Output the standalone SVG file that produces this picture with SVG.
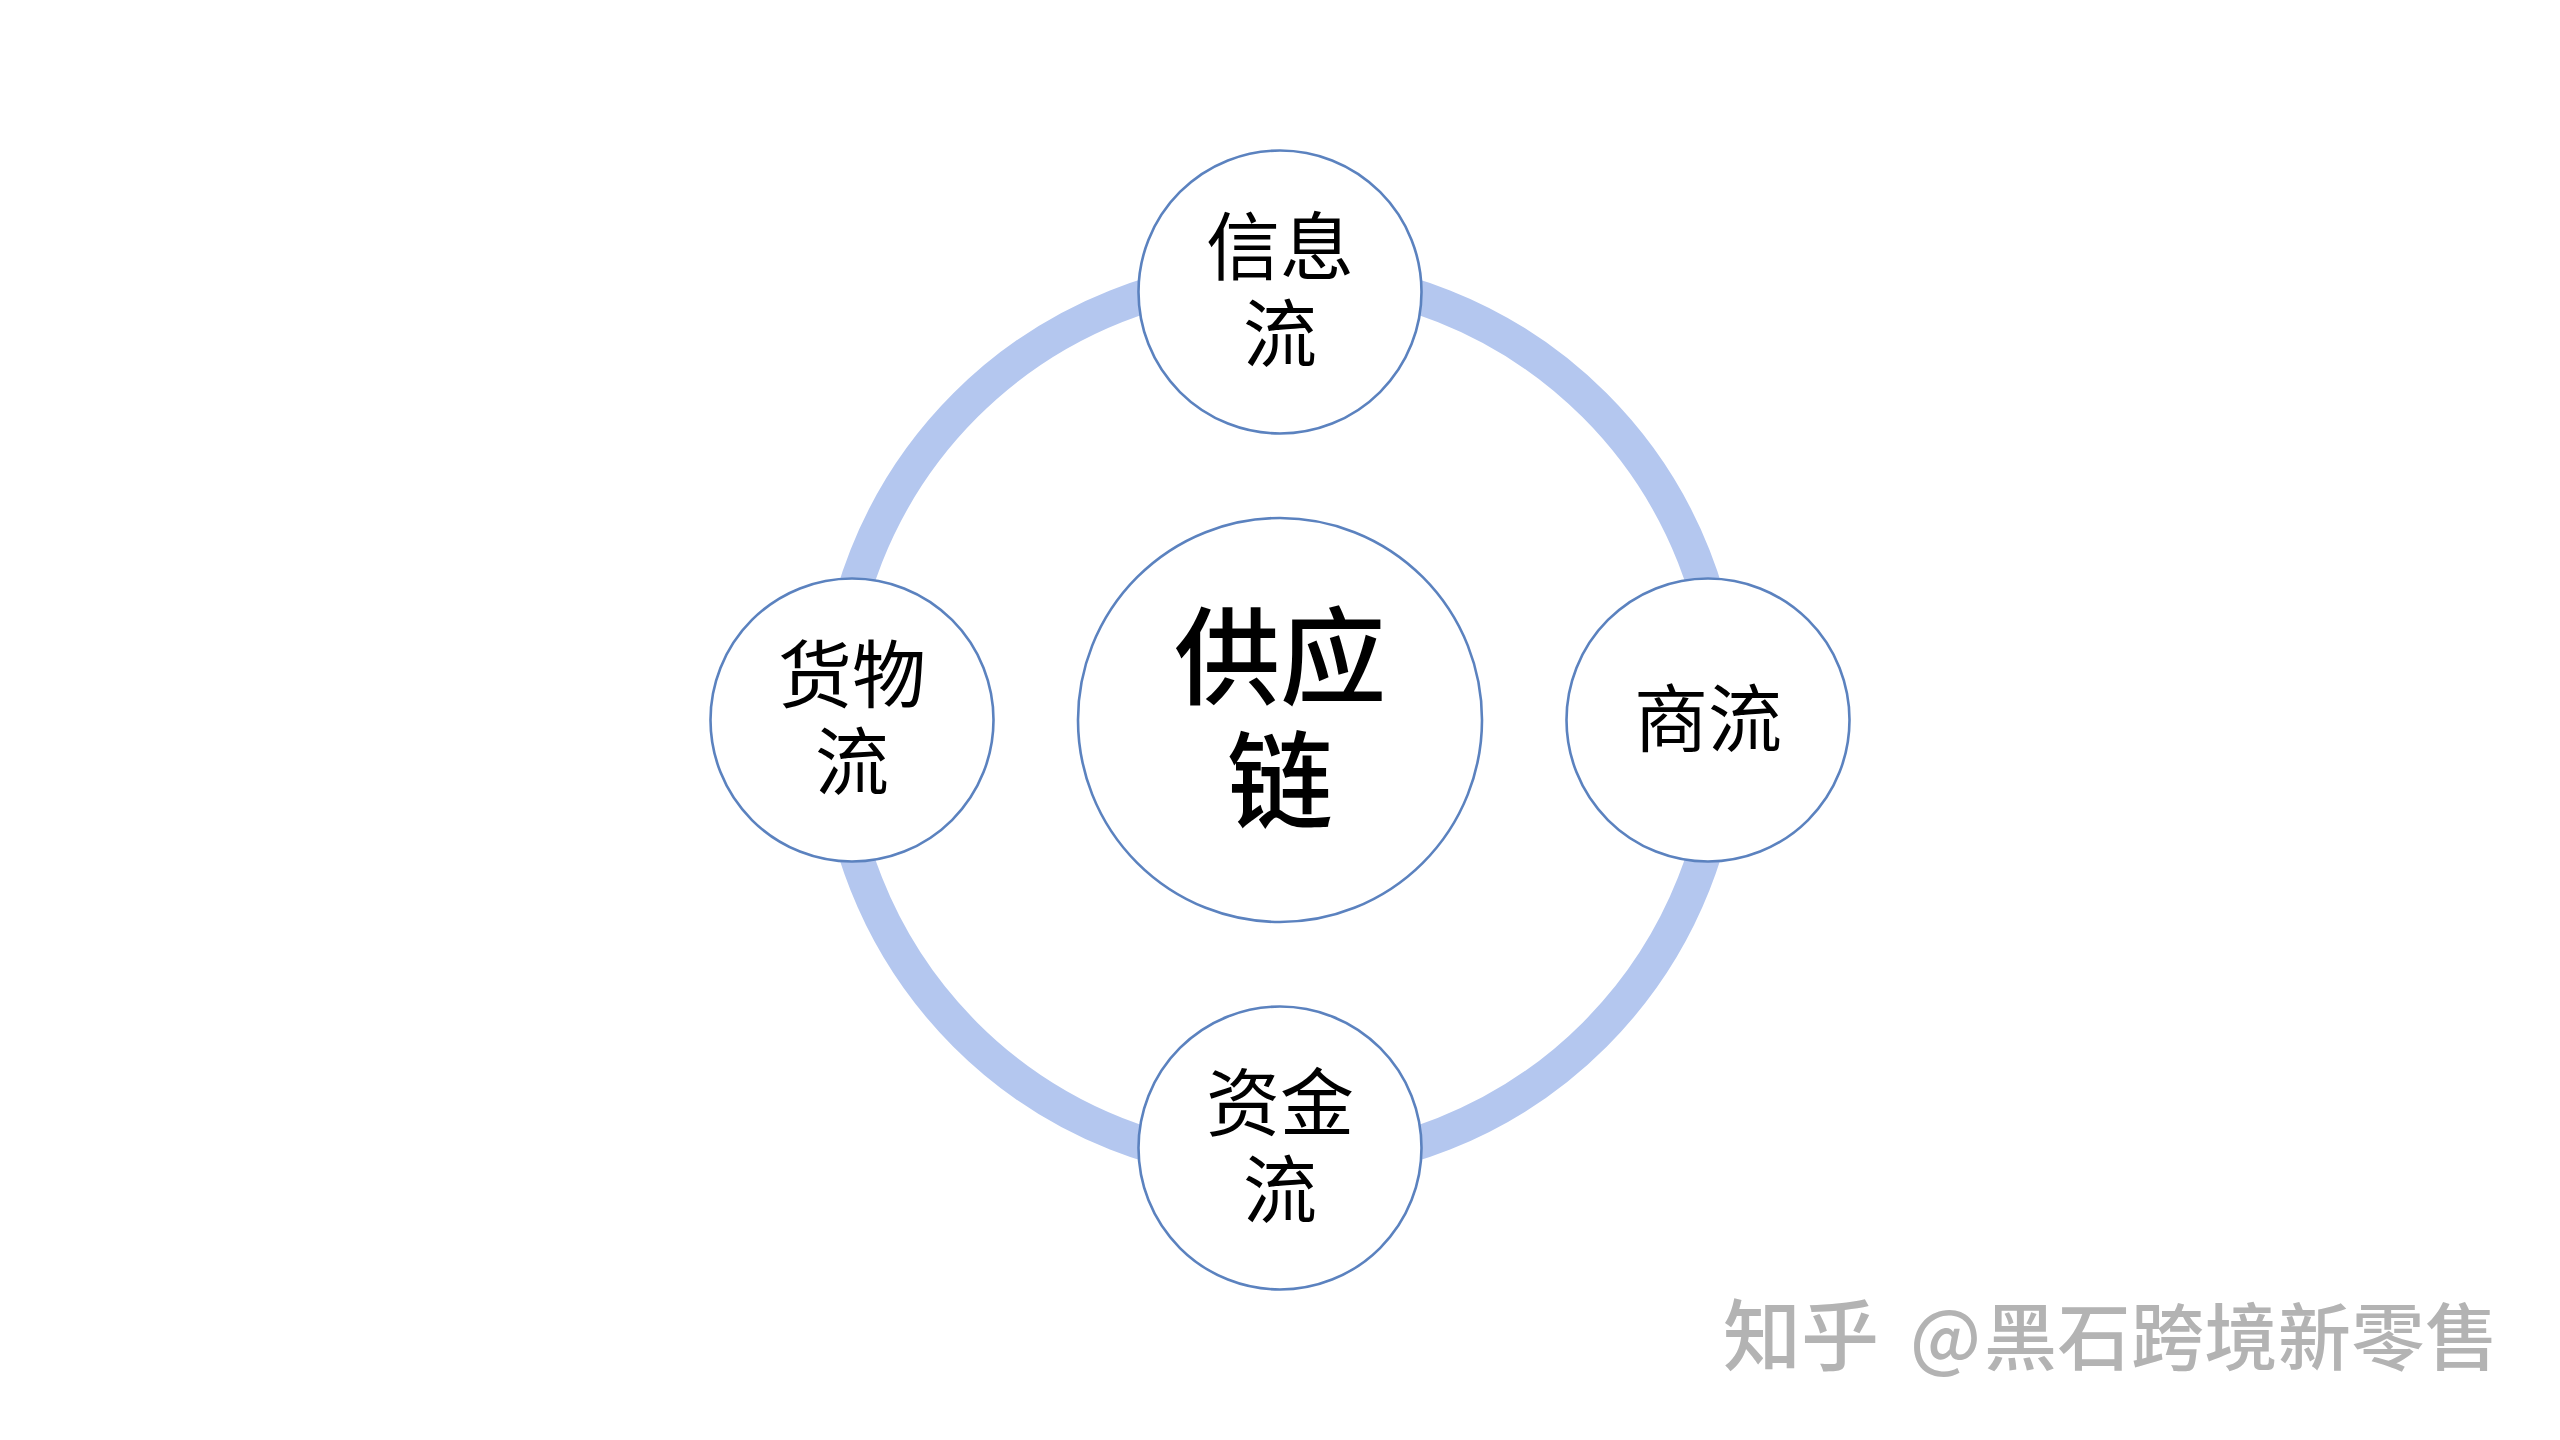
<svg xmlns="http://www.w3.org/2000/svg" width="2560" height="1440" viewBox="0 0 2560 1440">
<style>
.node{fill:#fff;stroke:#5b82bf;stroke-width:2.6}
.t{font-family:"Noto Sans CJK SC","Noto Sans",sans-serif;fill:#000;text-anchor:middle}
.s{font-size:74px;font-weight:400}
.b{font-size:106px;font-weight:500}
.w{font-family:"Noto Sans CJK SC","Noto Sans",sans-serif;font-weight:500;fill:#b3b3b3}
</style>
<rect width="2560" height="1440" fill="#fff"/>
<g id="connectors"><circle cx="1280" cy="720" r="445" fill="none" stroke="#b4c7ef" stroke-width="34"/></g>
<g id="node-center"><circle class="node" cx="1280" cy="720" r="202"/><text class="t b" x="1280" y="696">供应</text><text class="t b" x="1280" y="820">链</text></g>
<g id="node-info"><circle class="node" cx="1280" cy="292" r="141.5"/><text class="t s" x="1280" y="274">信息</text><text class="t s" x="1280" y="361">流</text></g>
<g id="node-commerce"><circle class="node" cx="1708" cy="720" r="141.5"/><text class="t s" x="1708" y="746">商流</text></g>
<g id="node-capital"><circle class="node" cx="1280" cy="1148" r="141.5"/><text class="t s" x="1280" y="1130">资金</text><text class="t s" x="1280" y="1217">流</text></g>
<g id="node-goods"><circle class="node" cx="852" cy="720" r="141.5"/><text class="t s" x="852" y="702">货物</text><text class="t s" x="852" y="789">流</text></g>
<g id="watermark"><text class="w" x="1723" y="1365" font-size="78">知乎</text><text class="w" x="1910" y="1364" font-size="73">@</text><text class="w" x="1984" y="1364" font-size="73" textLength="514">黑石跨境新零售</text></g>
</svg>
